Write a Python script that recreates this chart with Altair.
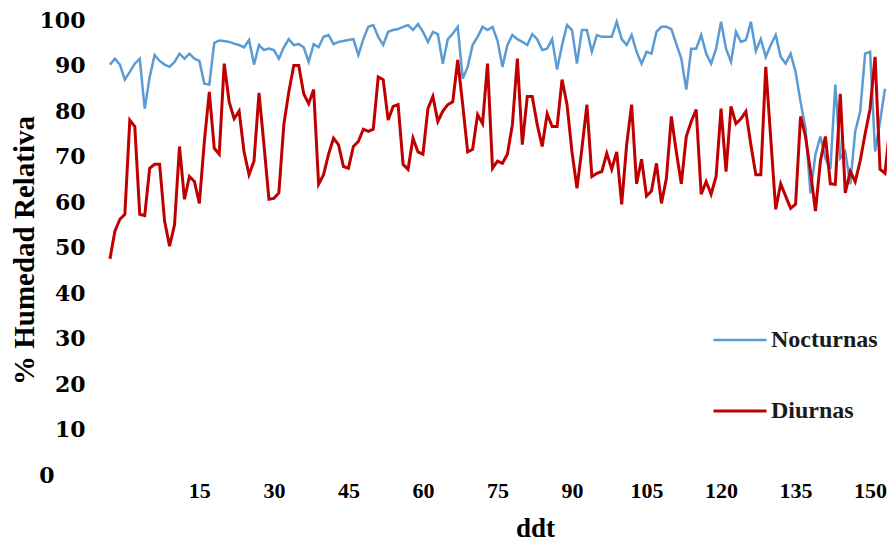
import altair as alt
import pandas as pd

# % relative humidity per day (ddt)
diurnas = [47.5, 53.6, 56.2, 57.3, 78, 76.6, 57.3, 57, 67.4, 68.3,
           68.3, 55.8, 50.3, 55, 72.2, 60.6, 65.6, 64.5, 59.7, 73.3,
           84.2, 71.8, 70.5, 90.4, 82, 78.3, 80, 71, 66, 69,
           84, 72.6, 60.6, 60.8, 62, 77, 84.2, 90, 90, 83.8,
           81.6, 84.7, 63.9, 66, 70.5, 74, 72.6, 67.8, 67.4, 72.2,
           73.3, 76, 75.5, 76, 87.5, 86.9, 78, 81, 81.4, 68.3,
           67.2, 74, 71, 70.5, 80.5, 83.2, 77.7, 80, 81.4, 82,
           91.2, 81.4, 71, 71.6, 79.2, 77.2, 90.4, 67.4, 69, 68.5,
           70.5, 77, 91.5, 72.6, 83.2, 83.2, 77, 72.2, 79.4, 76.6,
           76.6, 86.9, 81.4, 71, 63, 71.8, 81.4, 65.6, 66.3, 66.7,
           70.7, 67.2, 71, 59.5, 72.6, 81.4, 64, 69.4, 61.3, 62.4,
           68.5, 59.7, 65.2, 78.8, 71, 64, 74.4, 77.7, 80.3, 61.7,
           64.5, 61.7, 65.6, 80.5, 66.7, 81, 77.2, 78.3, 79.9, 72.6,
           66, 66, 89.7, 74, 58.4, 64, 61.3, 58.6, 59.5, 78.8,
           74.4, 66.7, 58, 69, 74.4, 64, 63.9, 83.8, 62, 66.7,
           64.5, 69, 75, 80.5, 91.9, 67.2, 66.3, 77]

nocturnas = [90.2, 91.5, 90.2, 86.9, 88.6, 90.4, 91.5, 80.5, 87.5, 92.3,
             91, 90.2, 89.7, 90.8, 92.6, 91.5, 92.6, 91.5, 91, 86,
             85.8, 95, 95.5, 95.4, 95.2, 94.8, 94.5, 94, 95.6, 90.2,
             94.5, 93.4, 93.7, 93.4, 91.5, 94, 95.8, 94.5, 94.7, 94,
             90.8, 94.7, 94, 96.3, 96.7, 94.7, 95.2, 95.4, 95.6, 95.8,
             92.3, 95.8, 98.5, 98.9, 96.3, 94.5, 97.4, 97.8, 98, 98.5,
             98.9, 97.8, 99.1, 97.4, 95.2, 97.4, 96.9, 90.4, 95.8, 97,
             98.5, 87.1, 89.7, 94.5, 96.3, 98.5, 97.8, 98.5, 95.5, 89.7,
             94.5, 96.7, 95.8, 95.2, 94.5, 96.9, 95.8, 93.4, 93.7, 95.8,
             89.1, 94.5, 98.9, 97.8, 90.4, 97.8, 97.8, 93, 96.7, 96.3,
             96.3, 96.3, 99.6, 95.8, 94.5, 96.7, 93, 90.4, 93, 92.6,
             97.4, 98.5, 98.5, 98, 94.7, 91.5, 84.7, 93.7, 93.7, 96.7,
             92.6, 90.4, 93.7, 99.6, 93.7, 90.8, 97.4, 95.2, 95.6, 99.6,
             93.2, 95.8, 91.9, 94.5, 96.7, 91.9, 90.4, 92.6, 88.6, 82,
             76.2, 61.9, 70.5, 74.4, 69.6, 67.2, 85.8, 69.6, 71.1, 63.9,
             75.5, 79.9, 92.6, 93, 71.1, 77.7, 84.9]

series_names = ["Nocturnas", "Diurnas"]
series_colors = ["#5B9BD5", "#C00000"]
x_ticks = [15, 30, 45, 60, 75, 90, 105, 120, 135, 150]
y_ticks = [0, 10, 20, 30, 40, 50, 60, 70, 80, 90, 100]
first_ddt = -3

ddt_n = list(range(first_ddt, first_ddt + len(nocturnas)))
ddt_d = list(range(first_ddt, first_ddt + len(diurnas)))

df = pd.DataFrame({
    "ddt": ddt_n + ddt_d,
    "hr": nocturnas + diurnas,
    "serie": ["Nocturnas"] * len(nocturnas) + ["Diurnas"] * len(diurnas),
})

FONT = "Liberation Serif"
YFONT = "DejaVu Serif"

chart = alt.Chart(df).mark_line().encode(
    x=alt.X(
        "ddt:Q",
        scale=alt.Scale(domain=[-5, 153.4], nice=False, zero=False),
        axis=alt.Axis(
            values=x_ticks, title="ddt", domain=False, ticks=False, grid=False,
            labelFont=FONT, labelFontSize=22, labelFontWeight="bold", labelColor="#000000",
            labelPadding=5, labelFlush=False,
            titleFont=FONT, titleFontSize=27, titleFontWeight="bold", titleColor="#000000",
            titleX=435, titleY=53, titleBaseline="middle", titleAlign="center",
        ),
    ),
    y=alt.Y(
        "hr:Q",
        scale=alt.Scale(domain=[0, 100], nice=False),
        axis=alt.Axis(
            values=y_ticks, title="% Humedad Relativa", domain=False, ticks=False, grid=False,
            labelFont=YFONT, labelFontSize=22, labelFontWeight="bold", labelColor="#000000",
            labelPadding={"condition": {"test": "datum.value === 0", "value": 46}, "value": 15},
            titleFont=FONT, titleFontSize=29, titleFontWeight="bold", titleColor="#000000",
            titleX=-76, titleY=230, titleAngle=-90, titleAlign="center", titleBaseline="middle",
        ),
    ),
    color=alt.Color(
        "serie:N",
        scale=alt.Scale(domain=series_names, range=series_colors),
        legend=alt.Legend(
            orient="none", legendX=612, legendY=292, title=None,
            symbolType="stroke", symbolSize=2809, symbolStrokeWidth=2.5,
            labelFont=FONT, labelFontSize=24, labelFontWeight="bold", labelColor="#1a1a1a",
            labelOffset=3, rowPadding=31, padding=0,
        ),
    ),
    strokeWidth=alt.StrokeWidth(
        "serie:N", scale=alt.Scale(domain=series_names, range=[2.5, 3]), legend=None
    ),
).properties(
    width=787,
    height=455,
    autosize=alt.AutoSizeParams(type="none"),
    padding={"left": 92, "top": 12, "right": 0, "bottom": 68},
    background="white",
).configure_view(stroke=None)

chart.save("out.html", embed_options={"renderer": "svg", "actions": False})
